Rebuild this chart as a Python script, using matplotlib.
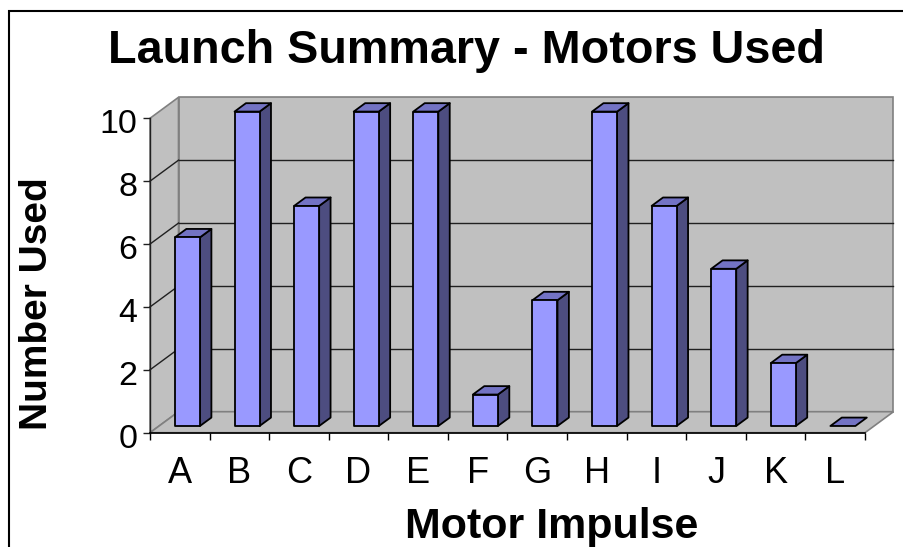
import matplotlib
matplotlib.use("Agg")
import matplotlib.pyplot as plt
import matplotlib.transforms as mtransforms
from matplotlib.patches import Polygon, Rectangle
import numpy as np

categories = ["A", "B", "C", "D", "E", "F", "G", "H", "I", "J", "K", "L"]
counts = [6, 10, 7, 10, 10, 1, 4, 10, 7, 5, 2, 0]
yticks = [0, 2, 4, 6, 8, 10]
title = "Launch Summary - Motors Used"
xlabel = "Motor Impulse"
ylabel = "Number Used"

plt.rcParams['font.family'] = ['Liberation Sans', 'DejaVu Sans']

W, H = 904, 547
fig = plt.figure(figsize=(W / 100, H / 100), dpi=100)
fig.patch.set_facecolor("white")

# front plane of the 3D box
x0p, x1p, y0p, y1p = 150, 865, 432.7, 118.3
ax = fig.add_axes([x0p / W, (H - y0p) / H, (x1p - x0p) / W, (y0p - y1p) / H])
n = len(categories)
ax.set_xlim(0, n)
ax.set_ylim(0, 10)
ax.patch.set_alpha(0)

pxx = (x1p - x0p) / n
pxy = (y0p - y1p) / 10
DX = 28.5 / pxx   # depth offset in data units
DY = 21.0 / pxy

wall = "#C0C0C0"
edge_gray = "#808080"

# back wall
ax.add_patch(Polygon([(DX, DY), (n + DX, DY), (n + DX, 10 + DY), (DX, 10 + DY)],
                     closed=True, facecolor=wall, edgecolor=edge_gray, lw=1.2, zorder=1, clip_on=False))
# left wall
ax.add_patch(Polygon([(0, 0), (DX, DY), (DX, 10 + DY), (0, 10)],
                     closed=True, facecolor=wall, edgecolor=edge_gray, lw=1.2, zorder=1, clip_on=False))
# floor
ax.add_patch(Polygon([(0, 0), (n, 0), (n + DX, DY), (DX, DY)],
                     closed=True, facecolor=wall, edgecolor=edge_gray, lw=1.2, zorder=1, clip_on=False))
# gridlines
for v in yticks[1:-1]:
    ax.plot([DX, n + DX], [v + DY, v + DY], color="#202020", lw=1.0, zorder=2, clip_on=False)
    ax.plot([0, DX], [v, v + DY], color="#202020", lw=1.0, zorder=2, clip_on=False)

# bars
w = 0.42
c = 0.476
f0 = 0.32
d = 0.40
front_c = "#9999FF"
side_c = "#4D4D80"
top_c = "#7373C4"
for i, v in enumerate(counts):
    xl = i + c - w / 2 + f0 * DX
    xr = i + c + w / 2 + f0 * DX
    yb = f0 * DY
    yt = v + f0 * DY
    ddx, ddy = d * DX, d * DY
    kw = dict(closed=True, edgecolor="black", lw=1.3, joinstyle="round", zorder=3, clip_on=False)
    if v > 0:
        ax.add_patch(Polygon([(xr, yb), (xr + ddx, yb + ddy), (xr + ddx, yt + ddy), (xr, yt)],
                             facecolor=side_c, **kw))
    ax.add_patch(Polygon([(xl, yt), (xr, yt), (xr + ddx, yt + ddy), (xl + ddx, yt + ddy)],
                         facecolor=top_c, **kw))
    if v > 0:
        ax.add_patch(Polygon([(xl, yb), (xr, yb), (xr, yt), (xl, yt)],
                             facecolor=front_c, **kw))

# axes spines and ticks
for s in ["top", "right"]:
    ax.spines[s].set_visible(False)
ax.spines["left"].set_color("#202020")
ax.spines["bottom"].set_color("black")
ax.spines["left"].set_linewidth(1.0)
ax.spines["bottom"].set_linewidth(1.2)
ax.spines["left"].set_zorder(4)
ax.spines["bottom"].set_zorder(4)

ax.set_yticks(yticks)
ax.set_yticklabels([str(t) for t in yticks], fontsize=24.5)
ax.tick_params(axis="y", direction="out", length=5, width=1.0, pad=4, color="#202020")
shift = mtransforms.ScaledTranslation(0, -3 / 100, fig.dpi_scale_trans)
for lab in ax.get_yticklabels():
    lab.set_transform(lab.get_transform() + shift)

ax.set_xticks(np.arange(n + 1))
ax.set_xticklabels([])
ax.tick_params(axis="x", which="major", direction="out", length=5, width=1.0, color="black")
ax.set_xticks(np.arange(n) + 0.5, minor=True)
ax.set_xticklabels(categories, minor=True, fontsize=26)
ax.tick_params(axis="x", which="minor", length=0, pad=17)

# texts
fig.text(466 / W, (H - 63.3) / H, title, fontsize=33.7, fontweight="bold",
         ha="center", va="baseline")
fig.text(552 / W, (H - 538) / H, xlabel, fontsize=31, fontweight="bold",
         ha="center", va="baseline")
fig.text(37 / W, (H - 304) / H, ylabel, fontsize=28, fontweight="bold",
         ha="center", va="center", rotation=90)

# chart border
fig.add_artist(Rectangle((9.3 / W, -0.1), 1.2, (H - 11.3) / H + 0.1, transform=fig.transFigure,
                         fill=False, edgecolor="black", lw=1.5))

fig.savefig("out.png", dpi=100, facecolor="white")
